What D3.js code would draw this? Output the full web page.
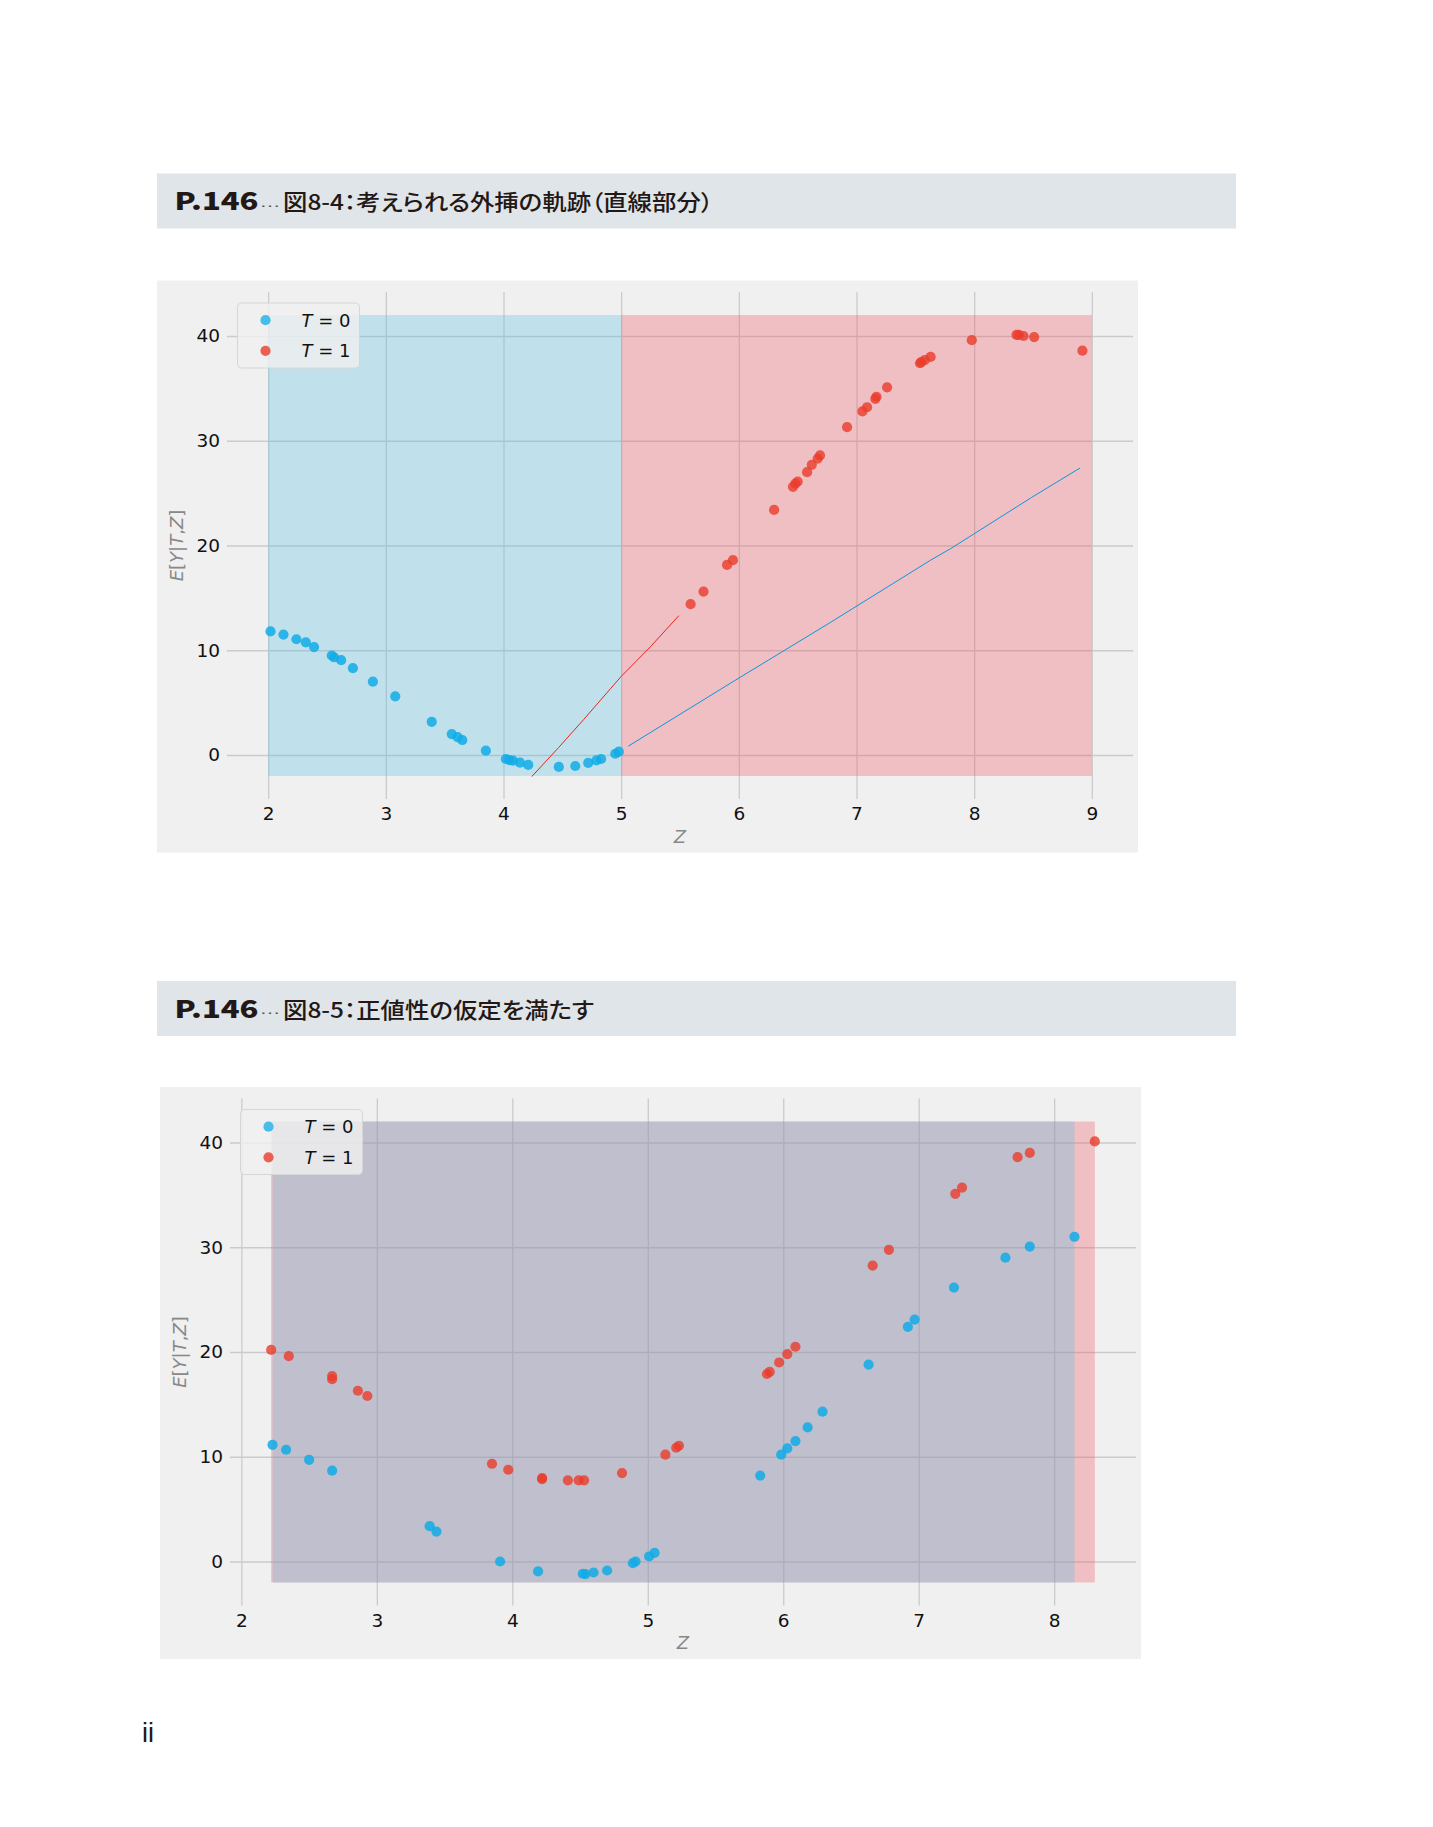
<!DOCTYPE html>
<html lang="ja">
<head>
<meta charset="utf-8">
<title>P.146 図8-4 / 図8-5</title>
<script src="https://cdn.jsdelivr.net/npm/d3@7"></script>
<style>
  html, body { margin: 0; padding: 0; background: #fff; }
  svg { display: block; }
</style>
</head>
<body>
<svg id="page" width="1433" height="1827"></svg>
<script>
// 図8-4 T=0 の点 [Z, E[Y|T,Z]]
const fig84T0 = [
  [2.02, 11.8], [2.13, 11.5], [2.24, 11.05], [2.32, 10.76], [2.39, 10.3], [2.54, 9.5],
  [2.56, 9.33], [2.62, 9.05], [2.72, 8.29], [2.89, 7.0], [3.08, 5.6], [3.39, 3.17],
  [3.56, 2.0], [3.61, 1.71], [3.65, 1.43], [3.85, 0.41], [4.02, -0.38], [4.05, -0.48],
  [4.08, -0.54], [4.14, -0.73], [4.21, -0.95], [4.47, -1.14], [4.61, -1.05], [4.72, -0.76],
  [4.79, -0.51], [4.83, -0.38], [4.95, 0.12], [4.98, 0.32]
];
// 図8-4 T=1 の点
const fig84T1 = [
  [5.59, 14.4], [5.70, 15.6], [5.90, 18.15], [5.95, 18.6], [6.30, 23.4], [6.46, 25.6],
  [6.48, 25.9], [6.50, 26.1], [6.58, 27.0], [6.62, 27.7], [6.67, 28.3], [6.69, 28.6],
  [6.92, 31.3], [7.05, 32.8], [7.09, 33.2], [7.16, 34.0], [7.17, 34.2], [7.26, 35.1],
  [7.54, 37.4], [7.55, 37.5], [7.58, 37.7], [7.63, 38.0], [7.98, 39.6], [8.36, 40.1],
  [8.38, 40.1], [8.42, 40.0], [8.51, 39.9], [8.92, 38.6]
];
// 図8-4 外挿の直線部分
const fig84LineT1 = [[4.24, -2.06], [4.47, 0.73], [4.68, 3.37], [5.0, 7.5], [5.25, 10.35], [5.49, 13.3]];
const fig84LineT0 = [[5.06, 0.84], [5.95, 7.0], [6.77, 12.6], [7.63, 18.6], [7.80, 19.7], [8.49, 24.6], [8.90, 27.4]];
// 塗りつぶしの Z 範囲
const fig84RangeT0 = [2, 5];
const fig84RangeT1 = [5, 9];

// 図8-5 T=0 の点
const fig85T0 = [
  [2.23, 11.14], [2.33, 10.67], [2.50, 9.71], [2.67, 8.67], [3.39, 3.37], [3.44, 2.86],
  [3.91, 0.0], [4.19, -0.95], [4.52, -1.17], [4.54, -1.2], [4.60, -1.05], [4.70, -0.86],
  [4.89, -0.16], [4.91, 0.0], [5.01, 0.48], [5.05, 0.83], [5.83, 8.2], [5.985, 10.2],
  [6.03, 10.8], [6.09, 11.5], [6.18, 12.8], [6.29, 14.3], [6.63, 18.8], [6.92, 22.4],
  [6.97, 23.1], [7.26, 26.15], [7.64, 29.0], [7.82, 30.06], [8.15, 31.0]
];
// 図8-5 T=1 の点
const fig85T1 = [
  [2.22, 20.2], [2.35, 19.6], [2.67, 17.7], [2.67, 17.4], [2.86, 16.3], [2.93, 15.8],
  [3.85, 9.33], [3.97, 8.76], [4.22, 7.97], [4.22, 7.87], [4.41, 7.75], [4.49, 7.75],
  [4.53, 7.75], [4.81, 8.44], [5.13, 10.2], [5.21, 10.86], [5.23, 11.05], [5.88, 17.9],
  [5.90, 18.1], [5.97, 19.0], [6.03, 19.8], [6.09, 20.5], [6.66, 28.25], [6.78, 29.75],
  [7.27, 35.1], [7.32, 35.7], [7.73, 38.6], [7.82, 39.0], [8.30, 40.1]
];
const fig85RangeT0 = [2.23, 8.15];
const fig85RangeT1 = [2.22, 8.30];

const fillY = [-2, 42];
const fig84XTicks = [2, 3, 4, 5, 6, 7, 8, 9];
const fig85XTicks = [2, 3, 4, 5, 6, 7, 8];
const yTicks = [0, 10, 20, 30, 40];
const legendLabels = ["0", "1"];
const pageLabel = "P.146";
const fig84Title = "図8-4：考えられる外挿の軌跡（直線部分）";
const fig85Title = "図8-5：正値性の仮定を満たす";

const BLUE = "#10ace6";
const RED = "#ea3c2a";

const svg = d3.select("#page");
svg.append("rect").attr("width", 1433).attr("height", 1827).attr("fill", "#fff");

// 見出しの帯
function drawHeader(top, title, titleWidth) {
  const g = svg.append("g").attr("transform", `translate(157,${top})`);
  g.append("rect").attr("width", 1079).attr("height", 55).attr("fill", "#dfe5e8");
  g.append("text")
    .attr("x", 17.5).attr("y", 36.5)
    .attr("textLength", 84).attr("lengthAdjust", "spacingAndGlyphs")
    .style("font-family", "'Noto Sans CJK JP', sans-serif")
    .style("font-weight", 900).style("font-size", "24px")
    .attr("fill", "#231815")
    .text(pageLabel);
  g.append("text")
    .attr("x", 103).attr("y", 33)
    .attr("textLength", 20).attr("lengthAdjust", "spacingAndGlyphs")
    .style("font-family", "'DejaVu Sans', sans-serif").style("font-size", "12px")
    .attr("fill", "#555")
    .text("…");
  g.append("text")
    .attr("x", 126).attr("y", 36.5)
    .attr("textLength", titleWidth).attr("lengthAdjust", "spacingAndGlyphs")
    .style("font-family", "'Noto Sans CJK JP', sans-serif")
    .style("font-weight", 500).style("font-size", "22px")
    .style("font-feature-settings", "'palt'")
    .attr("fill", "#231815")
    .text(title);
}

function drawChart(opts) {
  const pw = 981, ph = 572;
  const ml = 70, mt = 11.5, iw = 906, ih = 507;

  const panel = svg.append("g").attr("transform", `translate(${opts.left},${opts.top})`);
  panel.append("rect").attr("width", pw).attr("height", ph).attr("fill", "#f0f0f0");

  const g = panel.append("g").attr("transform", `translate(${ml},${mt})`);

  const x = d3.scaleLinear().domain(opts.xDomain).range([0, iw]);
  const y = d3.scaleLinear().domain([-4.2, 44.2]).range([ih, 0]);

  // グリッドと目盛
  const gx = g.append("g")
    .attr("transform", `translate(0,${ih})`)
    .call(d3.axisBottom(x).tickValues(opts.xTicks).tickSize(-ih).tickPadding(8).tickFormat(d3.format("d")));
  const gy = g.append("g")
    .call(d3.axisLeft(y).tickValues(yTicks).tickSize(-iw).tickPadding(7).tickFormat(d3.format("d")));
  [gx, gy].forEach(a => {
    a.select(".domain").remove();
    a.selectAll(".tick line").attr("stroke", "#cbcbcb").attr("stroke-width", 1.3);
    a.selectAll(".tick text")
      .attr("fill", "#111")
      .style("font-family", "'DejaVu Sans', sans-serif")
      .style("font-size", "18.5px");
  });

  // 塗りつぶし（T=1 を先に、T=0 を上に）
  g.append("rect")
    .attr("x", x(opts.range1[0])).attr("y", y(fillY[1]))
    .attr("width", x(opts.range1[1]) - x(opts.range1[0]))
    .attr("height", y(fillY[0]) - y(fillY[1]))
    .attr("fill", "rgb(240,80,97)").attr("fill-opacity", 0.3);
  g.append("rect")
    .attr("x", x(opts.range0[0])).attr("y", y(fillY[1]))
    .attr("width", x(opts.range0[1]) - x(opts.range0[0]))
    .attr("height", y(fillY[0]) - y(fillY[1]))
    .attr("fill", "rgb(83,193,230)").attr("fill-opacity", 0.3);

  const line = d3.line().x(d => x(d[0])).y(d => y(d[1]));
  (opts.lines || []).forEach(l => {
    g.append("path")
      .datum(l.data)
      .attr("d", line)
      .attr("fill", "none")
      .attr("stroke", l.color)
      .attr("stroke-width", 1);
  });

  // 観測点
  g.selectAll(".pt0")
    .data(opts.t0)
    .enter()
    .append("circle")
    .attr("class", "pt0")
    .attr("cx", d => x(d[0]))
    .attr("cy", d => y(d[1]))
    .attr("r", 5.1)
    .attr("fill", BLUE)
    .attr("fill-opacity", 0.85);
  g.selectAll(".pt1")
    .data(opts.t1)
    .enter()
    .append("circle")
    .attr("class", "pt1")
    .attr("cx", d => x(d[0]))
    .attr("cy", d => y(d[1]))
    .attr("r", 5.1)
    .attr("fill", RED)
    .attr("fill-opacity", 0.8);

  // 軸ラベル
  g.append("text")
    .attr("x", iw / 2).attr("y", ih + 43.5)
    .attr("text-anchor", "middle")
    .attr("fill", "#888")
    .style("font-family", "'DejaVu Sans', sans-serif")
    .style("font-size", "18px")
    .style("font-style", "italic")
    .text("Z");

  const yl = g.append("text")
    .attr("transform", `translate(-44,${ih / 2}) rotate(-90)`)
    .attr("text-anchor", "middle")
    .attr("fill", "#888")
    .style("font-family", "'DejaVu Sans', sans-serif")
    .style("font-size", "18px");
  [["E", true], ["[", false], ["Y", true], ["|", false], ["T", true], [",", false], ["Z", true], ["]", false]]
    .forEach(p => yl.append("tspan").style("font-style", p[1] ? "italic" : "normal").text(p[0]));

  // 凡例
  const lg = g.append("g").attr("transform", "translate(10.5,11)");
  lg.append("rect")
    .attr("width", 122).attr("height", 65).attr("rx", 4)
    .attr("fill", "#f0f0f0").attr("fill-opacity", 0.8)
    .attr("stroke", "#d6d6d6").attr("stroke-width", 1);
  legendLabels.forEach((lab, i) => {
    const row = lg.append("g").attr("transform", `translate(0,${17.2 + i * 30.6})`);
    row.append("circle")
      .attr("cx", 28).attr("r", 5.1)
      .attr("fill", i === 0 ? BLUE : RED)
      .attr("fill-opacity", i === 0 ? 0.75 : 0.8);
    const t = row.append("text")
      .attr("x", 64).attr("y", 6.5)
      .attr("fill", "#111")
      .style("font-family", "'DejaVu Sans', sans-serif")
      .style("font-size", "18px");
    t.append("tspan").style("font-style", "italic").text("T");
    t.append("tspan").text(" = " + lab);
  });
}

drawHeader(173.5, fig84Title, 430);
drawChart({
  left: 157, top: 280.5,
  xDomain: [1.65, 9.35], xTicks: fig84XTicks,
  t0: fig84T0, t1: fig84T1,
  range0: fig84RangeT0, range1: fig84RangeT1,
  lines: [{data: fig84LineT1, color: "#e8251c"}, {data: fig84LineT0, color: "#0b97dc"}]
});

drawHeader(981, fig85Title, 311);
drawChart({
  left: 160, top: 1087,
  xDomain: [1.916, 8.604], xTicks: fig85XTicks,
  t0: fig85T0, t1: fig85T1,
  range0: fig85RangeT0, range1: fig85RangeT1
});

// ページ番号
svg.append("text")
  .attr("x", 142).attr("y", 1742)
  .attr("fill", "#231815")
  .style("font-family", "'Liberation Sans', sans-serif")
  .style("font-size", "27px")
  .text("ii");
</script>
</body>
</html>
